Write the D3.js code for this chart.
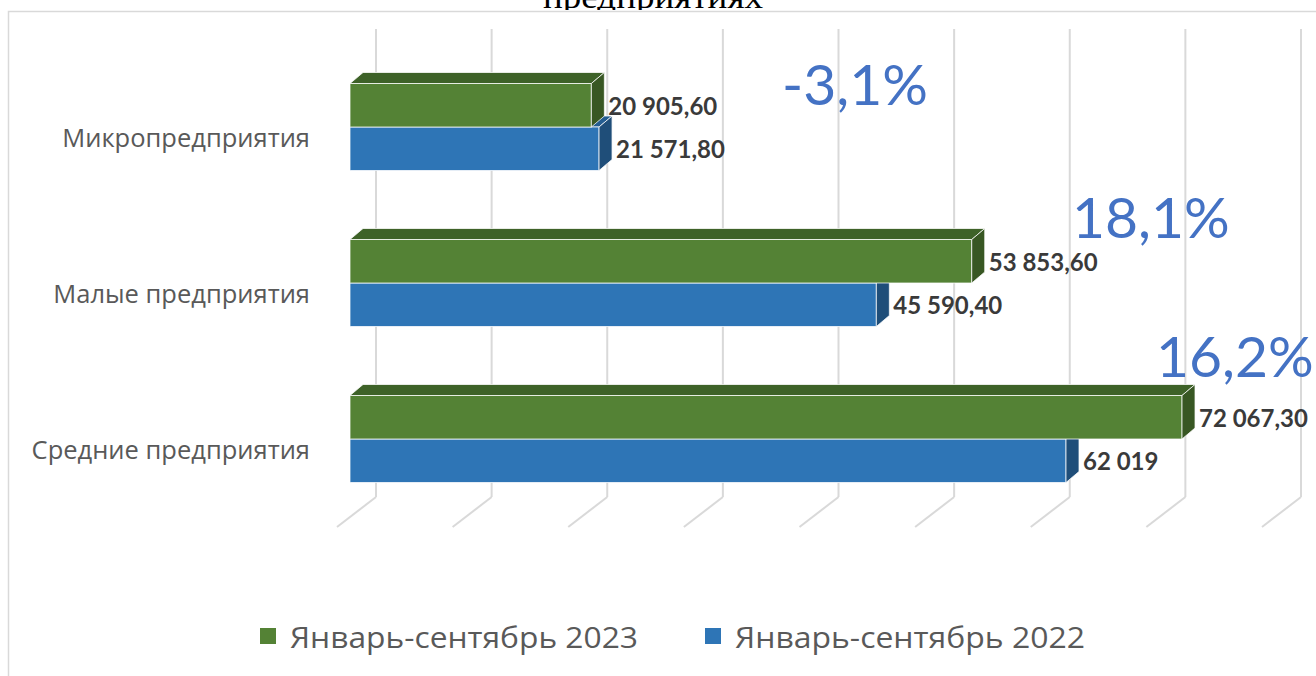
<!DOCTYPE html>
<html>
<head>
<meta charset="utf-8">
<script src="https://cdn.jsdelivr.net/npm/d3@7"></script>
<style>
  html, body { margin: 0; padding: 0; background: #fff; }
  svg { display: block; }
</style>
</head>
<body>
<div id="chart"></div>
<script>
(() => {
    // Chart data
    const categories = ["Микропредприятия", "Малые предприятия", "Средние предприятия"];
    const seriesNames = ["Январь-сентябрь 2023", "Январь-сентябрь 2022"];
    const values2023 = [20905.6, 53853.6, 72067.3];
    const values2022 = [21571.8, 45590.4, 62019];
    const gridTicks = [0, 10000, 20000, 30000, 40000, 50000, 60000, 70000, 80000];
    const titleText = "предприятиях";

    const width = 1316;
    const height = 676;

    const colors = {
        green: { front: "#548235", top: "#3e6228", side: "#385723" },
        blue: { front: "#2e75b6", top: "#245d91", side: "#1f4e79" }
    };

    // 3D offset of the bar depth
    const depth = { dx: 13, dy: -11 };
    const barH = 43.5;

    const svg = d3.select("#chart")
        .append("svg")
        .attr("width", width)
        .attr("height", height);

    // Title (cut off at the top of the picture)
    svg.append("clipPath").attr("id", "titleClip")
        .append("rect").attr("x", 0).attr("y", 0).attr("width", width).attr("height", 10);

    svg.append("text")
        .attr("clip-path", "url(#titleClip)")
        .attr("x", 543)
        .attr("y", 8)
        .attr("textLength", 220)
        .attr("lengthAdjust", "spacingAndGlyphs")
        .style("font-family", "'Liberation Serif', 'Times New Roman', serif")
        .style("font-size", "34px")
        .style("fill", "#000")
        .text(titleText);

    // Chart border
    svg.append("rect")
        .attr("x", 8.5)
        .attr("y", 11.5)
        .attr("width", 1400)
        .attr("height", 700)
        .attr("fill", "none")
        .attr("stroke", "#d9d9d9")
        .attr("stroke-width", 1.5);

    // Scales: front face of bars and back wall
    const xFront = d3.scaleLinear().domain([0, 80000]).range([350, 1273.6]);
    const xBack = d3.scaleLinear().domain([0, 80000]).range([376, 1301]);
    const y = d3.scaleBand().domain(categories).range([49, 517]);

    const wallTop = 29, wallBottom = 497;
    const floor = { dx: -39, dy: 30 };

    // Gridlines on back wall and floor
    const grid = svg.append("g").attr("stroke", "#d9d9d9").attr("stroke-width", 2).attr("fill", "none");
    grid.selectAll("line.wall")
        .data(gridTicks)
        .enter()
        .append("line")
        .attr("x1", d => xBack(d))
        .attr("x2", d => xBack(d))
        .attr("y1", wallTop)
        .attr("y2", wallBottom);
    grid.selectAll("line.floor")
        .data(gridTicks)
        .enter()
        .append("line")
        .attr("x1", d => xBack(d))
        .attr("x2", d => xBack(d) + floor.dx)
        .attr("y1", wallBottom)
        .attr("y2", wallBottom + floor.dy);

    // Bars
    const rows = categories.map((c, i) => ({ cat: c, v2023: values2023[i], v2022: values2022[i] }));
    const loc = d3.formatLocale({ decimal: ",", thousands: "\u00a0", grouping: [3], currency: ["", ""], minus: "-" });
    const fmtVal = v => Number.isInteger(v) ? loc.format(",d")(v) : loc.format(",.2f")(v);

    function drawBar(g, value, y0, col) {
        const x0 = xFront(0), x1 = xFront(value), y1 = y0 + barH;
        const { dx, dy } = depth;
        const stroke = "rgba(255,255,255,0.75)";
        g.append("polygon")
            .attr("points", [[x0, y0], [x1, y0], [x1 + dx, y0 + dy], [x0 + dx, y0 + dy]].join(" "))
            .attr("fill", col.top).attr("stroke", stroke).attr("stroke-width", 1);
        g.append("rect")
            .attr("x", x0).attr("y", y0).attr("width", x1 - x0).attr("height", barH)
            .attr("fill", col.front).attr("stroke", stroke).attr("stroke-width", 1);
        g.append("polygon")
            .attr("points", [[x1, y0], [x1 + dx, y0 + dy], [x1 + dx, y1 + dy], [x1, y1]].join(" "))
            .attr("fill", col.side).attr("stroke", stroke).attr("stroke-width", 1);
        g.append("text")
            .attr("x", x1 + dx + 4)
            .attr("y", y0 + barH / 2 + 1)
            .attr("dy", "0.36em")
            .style("font-family", "Lato, 'Open Sans', sans-serif")
            .style("font-weight", "bold")
            .style("font-size", "24px")
            .style("fill", "#3a3a3a")
            .text(fmtVal(value));
    }

    const bars = svg.append("g");
    rows.forEach(r => {
        const center = y(r.cat) + y.bandwidth() / 2;
        const g = bars.append("g");
        drawBar(g, r.v2022, center, colors.blue);
        drawBar(g, r.v2023, center - barH, colors.green);
    });

    // Category labels
    svg.append("g").selectAll("text")
        .data(categories)
        .enter()
        .append("text")
        .attr("x", 310)
        .attr("y", d => y(d) + y.bandwidth() / 2 + 20)
        .attr("text-anchor", "end")
        .style("font-family", "'Open Sans', sans-serif")
        .style("font-size", "25.5px")
        .style("fill", "#595959")
        .text(d => d);

    // Percent change annotations
    const pctPos = [[782, 105], [1072, 238], [1156, 377]];
    const fmtPct = v => loc.format(".1f")(v) + "%";
    svg.append("g").selectAll("text")
        .data(rows)
        .enter()
        .append("text")
        .attr("x", (d, i) => pctPos[i][0])
        .attr("y", (d, i) => pctPos[i][1])
        .style("font-family", "Lato, 'Open Sans', sans-serif")
        .style("font-size", "57px")
        .style("fill", "#4472c4")
        .text(d => fmtPct((d.v2023 / d.v2022 - 1) * 100));

    // Legend
    const legendItems = [
        { name: seriesNames[0], color: colors.green.front, x: 260, w: 348 },
        { name: seriesNames[1], color: colors.blue.front, x: 705, w: 350 }
    ];
    const legend = svg.append("g");
    legendItems.forEach(item => {
        legend.append("rect")
            .attr("x", item.x).attr("y", 628)
            .attr("width", 16).attr("height", 16)
            .attr("fill", item.color);
        legend.append("text")
            .attr("x", item.x + 30)
            .attr("y", 648)
            .attr("textLength", item.w)
            .attr("lengthAdjust", "spacingAndGlyphs")
            .style("font-family", "'Open Sans', sans-serif")
            .style("font-size", "29px")
            .style("fill", "#595959")
            .text(item.name);
    });
})();
</script>
</body>
</html>
